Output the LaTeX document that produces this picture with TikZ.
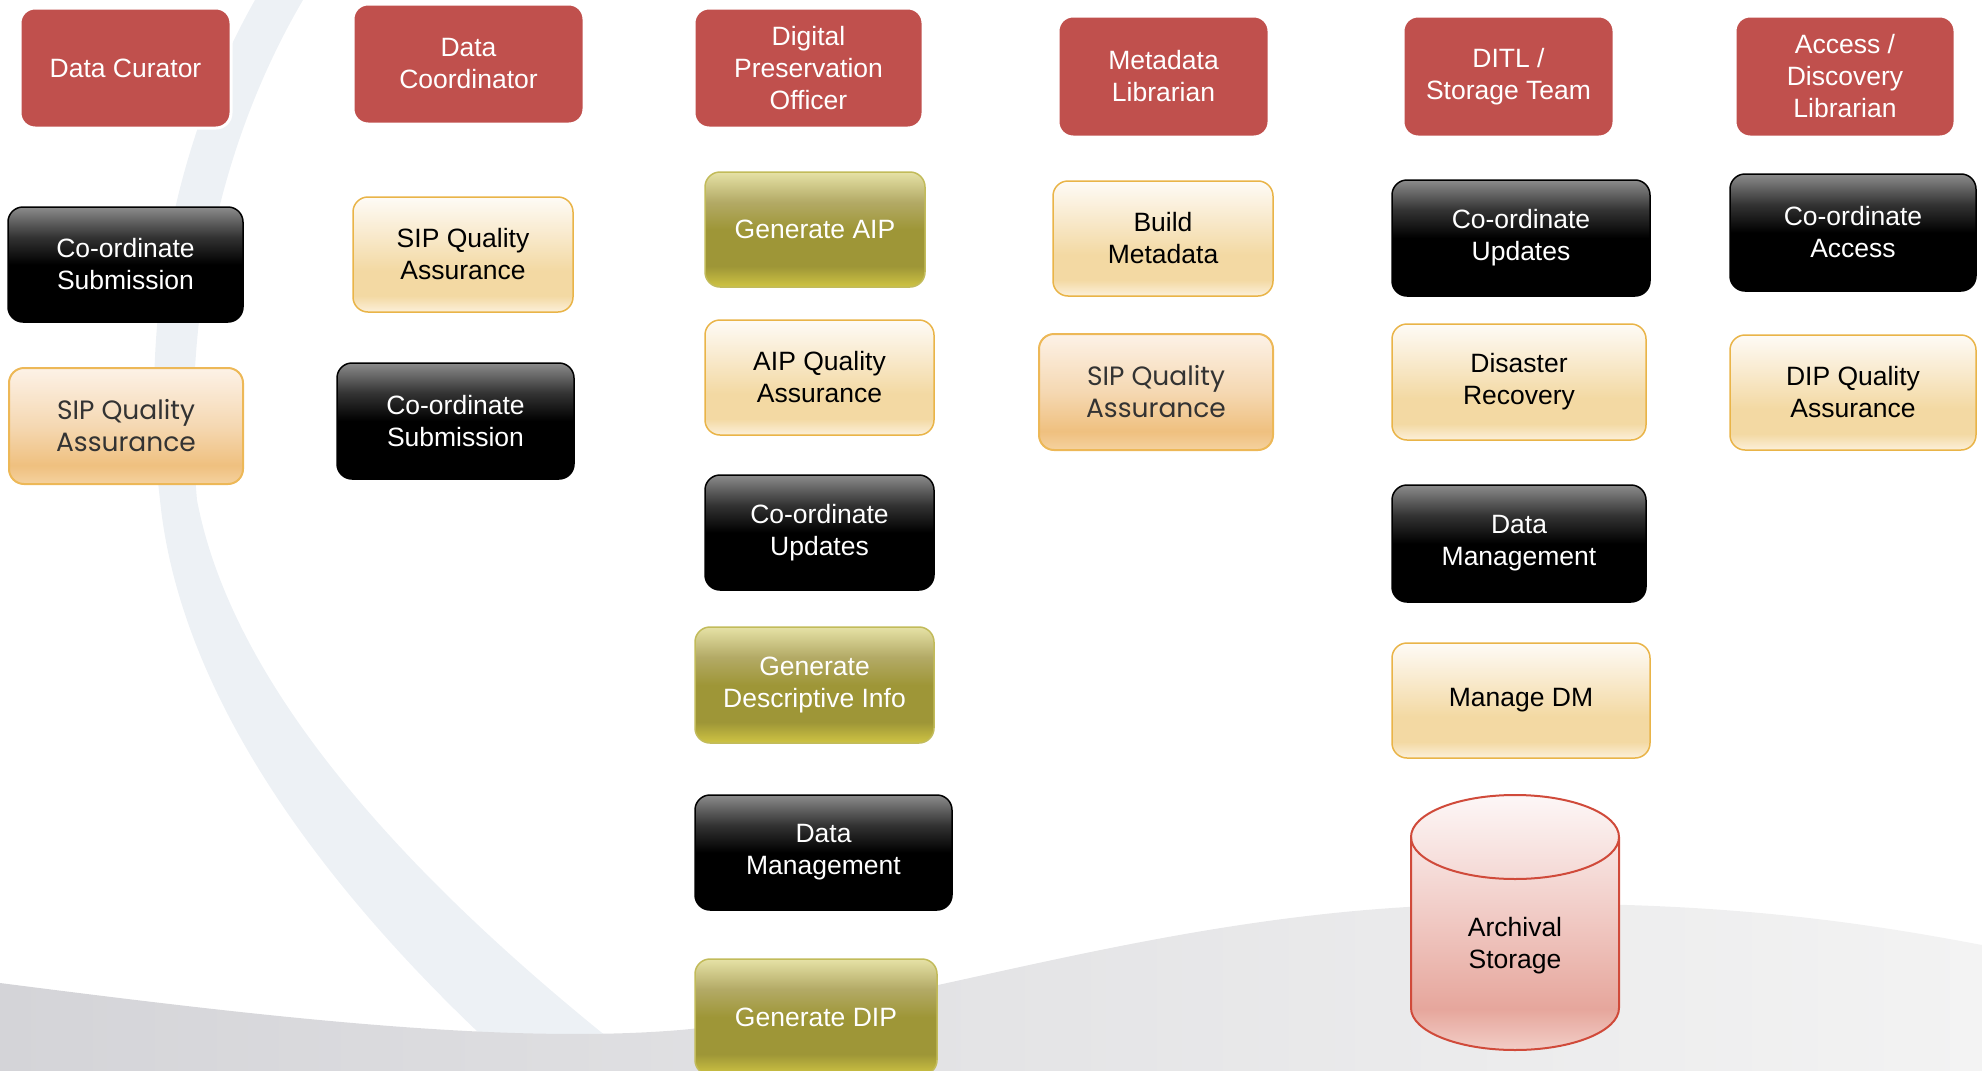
\documentclass[tikz,border=0pt]{standalone}
\usepackage{fontspec}
\setmainfont{Liberation Sans}
\newfontfamily\gothic{Poppins}
\definecolor{hdrred}{HTML}{C0504D}
\definecolor{blktop}{HTML}{8C8C8C}
\definecolor{blkmid}{HTML}{333333}
\definecolor{crmtop}{HTML}{FEFBF6}
\definecolor{crmup}{HTML}{F9EBD0}
\definecolor{crmlow}{HTML}{F3D9A3}
\definecolor{crmbot}{HTML}{FCF0DA}
\definecolor{crmline}{HTML}{E9B448}
\definecolor{pchtop}{HTML}{FDF2E7}
\definecolor{pchmid}{HTML}{F5D8B2}
\definecolor{pchlow}{HTML}{EFC07F}
\definecolor{pchbot}{HTML}{F5D29F}
\definecolor{pchline}{HTML}{EDB857}
\definecolor{olvtop}{HTML}{E6E2A6}
\definecolor{olvup}{HTML}{B3AA66}
\definecolor{olvmid}{HTML}{9E9637}
\definecolor{olvbot}{HTML}{CFC443}
\definecolor{olvline}{HTML}{C2BB5A}
\definecolor{cyltop}{HTML}{FDF7F7}
\definecolor{cylmid}{HTML}{F0C8C2}
\definecolor{cyllow}{HTML}{E6A69C}
\definecolor{cylbot}{HTML}{F2CEC7}
\definecolor{cylline}{HTML}{D04A3A}
\definecolor{arcblue}{HTML}{EDF1F5}
\definecolor{floorl}{HTML}{D4D4D8}
\definecolor{floorm}{HTML}{E4E4E6}
\definecolor{floorr}{HTML}{F3F3F3}
\pgfdeclareverticalshading{blkshade}{100bp}{color(0bp)=(black); color(25bp)=(black); color(50bp)=(black); color(62bp)=(blkmid); color(75bp)=(blktop); color(100bp)=(blktop)}
\pgfdeclareverticalshading{crmshade}{100bp}{color(0bp)=(crmbot); color(25bp)=(crmbot); color(32bp)=(crmlow); color(43bp)=(crmlow); color(60bp)=(crmup); color(75bp)=(crmtop); color(100bp)=(crmtop)}
\pgfdeclareverticalshading{pchshade}{100bp}{color(0bp)=(pchbot); color(25bp)=(pchbot); color(33bp)=(pchlow); color(50bp)=(pchmid); color(75bp)=(pchtop); color(100bp)=(pchtop)}
\pgfdeclareverticalshading{olvshade}{100bp}{color(0bp)=(olvbot); color(25bp)=(olvbot); color(34bp)=(olvmid); color(50bp)=(olvmid); color(62bp)=(olvup); color(75bp)=(olvtop); color(100bp)=(olvtop)}
\pgfdeclareverticalshading{cylshade}{100bp}{color(0bp)=(cylbot); color(25bp)=(cylbot); color(33bp)=(cyllow); color(50bp)=(cylmid); color(75bp)=(cyltop); color(100bp)=(cyltop)}
\pgfdeclarehorizontalshading{floorshade}{100bp}{color(0bp)=(floorl); color(25bp)=(floorl); color(50bp)=(floorm); color(75bp)=(floorr); color(100bp)=(floorr)}
\begin{document}
\begin{tikzpicture}[x=1pt, y=1pt,
  every node/.style={align=center, inner sep=0pt, rounded corners=15pt, font=\fontsize{26.5}{32}\selectfont},
  hdr/.style={fill=hdrred, draw=white, line width=3pt, text=white},
  blk/.style={shade, shading=blkshade, draw=black, line width=1.5pt, text=white},
  crm/.style={shade, shading=crmshade, draw=crmline, line width=1.5pt, text=black},
  pch/.style={shade, shading=pchshade, draw=pchline, line width=2pt, text=black!80, font=\gothic\fontsize{26.5}{32}\selectfont},
  olv/.style={shade, shading=olvshade, draw=olvline, line width=1.5pt, text=white}]
  \useasboundingbox (0,0) rectangle (1982,-1071);
  \fill[arcblue] (255,0) .. controls (170,-150) and (140,-330) .. (160,-500)
    .. controls (180,-700) and (330,-900) .. (520,-1071) -- (650,-1071)
    .. controls (430,-900) and (235,-700) .. (197,-500)
    .. controls (182,-330) and (215,-150) .. (303,0) -- cycle;
  \shade[shading=floorshade] (0,-983) .. controls (250,-1015) and (500,-1045) .. (680,-1030)
    .. controls (900,-1010) and (1150,-915) .. (1450,-905)
    .. controls (1700,-898) and (1850,-920) .. (1982,-945) -- (1982,-1071) -- (0,-1071) -- cycle;
  \node[hdr, minimum width=211pt, minimum height=120pt] (cur) at (125.5,-68) {Data Curator};
  \node[blk, minimum width=235pt, minimum height=115pt] (cur1) at (125.5,-264.5) {Co-ordinate\\Submission};
  \node[pch, minimum width=234pt, minimum height=116pt] (cur2) at (126,-426) {SIP Quality\\Assurance};
  \node[hdr, minimum width=231pt, minimum height=120pt] (crd) at (468.5,-64) {Data\\Coordinator};
  \node[crm, minimum width=220pt, minimum height=115pt] (crd1) at (463,-254.5) {SIP Quality\\Assurance};
  \node[blk, minimum width=237pt, minimum height=116pt] (crd2) at (455.5,-421) {Co-ordinate\\Submission};
  \node[hdr, minimum width=229pt, minimum height=120pt] (dpo) at (808.5,-68) {Digital\\Preservation\\Officer};
  \node[olv, minimum width=220pt, minimum height=115pt] (dpo1) at (815,-229.5) {Generate AIP};
  \node[crm, minimum width=229pt, minimum height=115pt] (dpo2) at (819.5,-377.5) {AIP Quality\\Assurance};
  \node[blk, minimum width=229pt, minimum height=115pt] (dpo3) at (819.5,-532.5) {Co-ordinate\\Updates};
  \node[olv, minimum width=239pt, minimum height=116pt] (dpo4) at (814.5,-685) {Generate\\Descriptive Info};
  \node[blk, minimum width=257pt, minimum height=115pt] (dpo5) at (823.5,-852.5) {Data\\Management};
  \node[olv, minimum width=242pt, minimum height=116pt] (dpo6) at (816,-1017) {Generate DIP};
  \node[hdr, minimum width=211pt, minimum height=121pt] (met) at (1163.5,-76.5) {Metadata\\Librarian};
  \node[crm, minimum width=220pt, minimum height=115pt] (met1) at (1163,-238.5) {Build\\Metadata};
  \node[pch, minimum width=234pt, minimum height=116pt] (met2) at (1156,-392) {SIP Quality\\Assurance};
  \node[hdr, minimum width=211pt, minimum height=121pt] (dit) at (1508.5,-76.5) {DITL /\\Storage Team};
  \node[blk, minimum width=258pt, minimum height=116pt] (dit1) at (1521,-238) {Co-ordinate\\Updates};
  \node[crm, minimum width=254pt, minimum height=116pt] (dit2) at (1519,-382) {Disaster\\Recovery};
  \node[blk, minimum width=254pt, minimum height=117pt] (dit3) at (1519,-543.5) {Data\\Management};
  \node[crm, minimum width=258pt, minimum height=115pt] (dit4) at (1521,-700.5) {Manage DM};
  \shade[shading=cylshade, draw=cylline, line width=2pt] (1411,-837) -- (1411,-1008)
    arc[start angle=180, end angle=360, x radius=104, y radius=42] -- (1619,-837)
    arc[start angle=0, end angle=180, x radius=104, y radius=42] -- cycle;
  \draw[cylline, line width=2pt] (1411,-837) arc[start angle=180, end angle=360, x radius=104, y radius=42];
  \node[text=black] (dit5) at (1515,-946) {Archival\\Storage};
  \node[hdr, minimum width=220pt, minimum height=121pt] (acc) at (1845,-76.5) {Access /\\Discovery\\Librarian};
  \node[blk, minimum width=246pt, minimum height=117pt] (acc1) at (1853,-232.5) {Co-ordinate\\Access};
  \node[crm, minimum width=246pt, minimum height=115pt] (acc2) at (1853,-392.5) {DIP Quality\\Assurance};
\end{tikzpicture}
\end{document}
